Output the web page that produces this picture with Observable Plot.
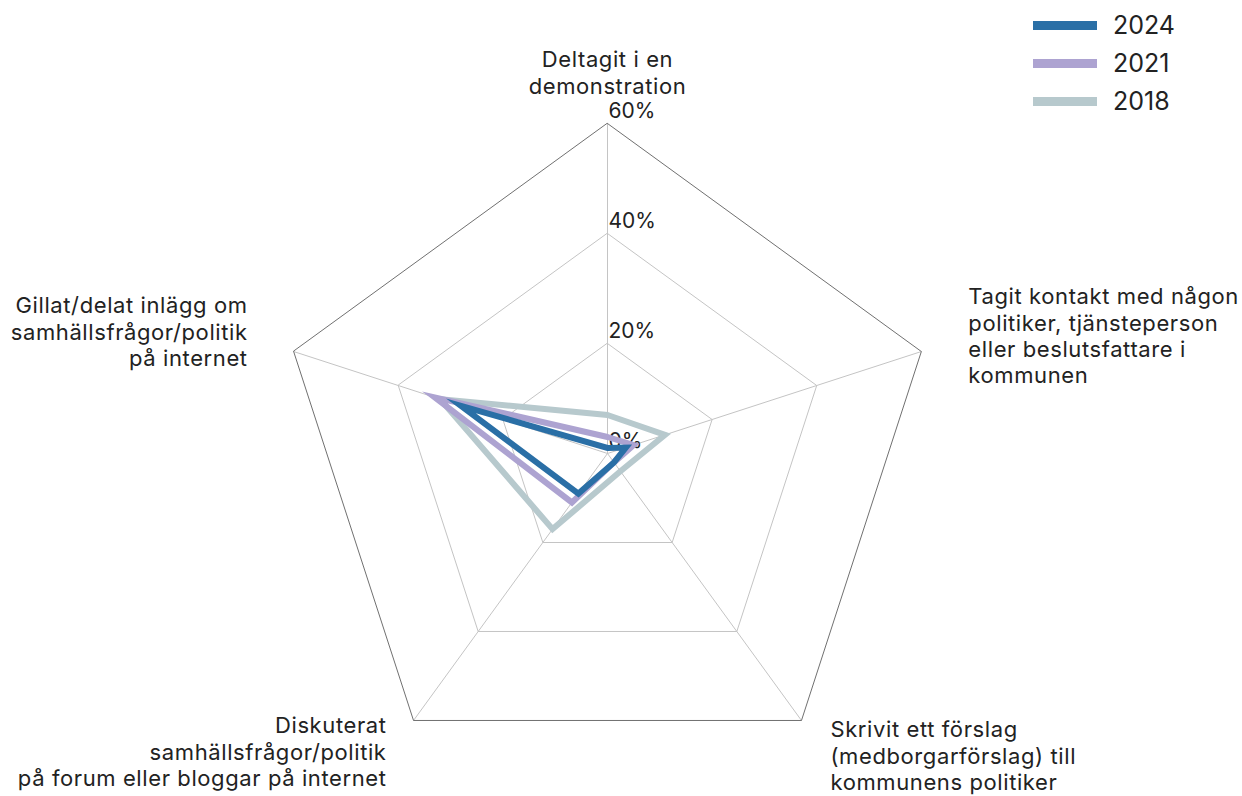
<!DOCTYPE html>
<html>
<head>
<meta charset="utf-8">
<script src="https://cdn.jsdelivr.net/npm/d3@7"></script>
<script src="https://cdn.jsdelivr.net/npm/@observablehq/plot@0.6"></script>
<style>
  html, body { margin: 0; padding: 0; background: #fff; }
  #wrap { position: relative; width: 1242px; height: 796px; font-family: Inter, "Open Sans", sans-serif; color: #222; }
  #legend { position: absolute; left: 1033px; top: 6px; }
  .item { display: flex; align-items: center; height: 38px; font-size: 25px; }
  .sw { width: 64px; height: 9px; margin-right: 16px; }
  .catlabel text { letter-spacing: 0.6px; }
</style>
</head>
<body>
<div id="wrap"><div id="legend"></div></div>
<script>
const categories = [
  "Deltagit i en\ndemonstration",
  "Tagit kontakt med någon\npolitiker, tjänsteperson\neller beslutsfattare i\nkommunen",
  "Skrivit ett förslag\n(medborgarförslag) till\nkommunens politiker",
  "Diskuterat\nsamhällsfrågor/politik\npå forum eller bloggar på internet",
  "Gillat/delat inlägg om\nsamhällsfrågor/politik\npå internet"
];
const years = ["2024", "2021", "2018"];
const values2024 = [1, 3.5, 2, 9, 28];
const values2021 = [3, 5, 2, 11, 33];
const values2018 = [7, 11, 4, 17, 32];
const ringTicks = [20, 40, 60];
const tickLabels = [0, 20, 40, 60];
const colors = {"2024": "#2a6fa6", "2021": "#ada3d1", "2018": "#b7c9cd"};

const n = categories.length;
const ang = i => (i * 2 * Math.PI) / n;
const px = (r, i) => r * Math.sin(ang(i));
const py = (r, i) => r * Math.cos(ang(i));

const series = {"2024": values2024, "2021": values2021, "2018": values2018};
const seriesPts = y => series[y].map((v, i) => ({year: y, x: px(v, i), y: py(v, i)}));

const rings = ringTicks.flatMap(t => d3.range(n).map(i => ({t, x: px(t, i), y: py(t, i)})));
const spokes = d3.range(n).flatMap(i => [{i, x: 0, y: 0}, {i, x: px(60, i), y: py(60, i)}]);

const labelCfg = [
  {textAnchor: "middle", lineAnchor: "bottom", dx: 0, dy: -30},
  {textAnchor: "start", lineAnchor: "top", dx: 47, dy: -66},
  {textAnchor: "start", lineAnchor: "top", dx: 29, dy: -2},
  {textAnchor: "end", lineAnchor: "top", dx: -27, dy: -6},
  {textAnchor: "end", lineAnchor: "top", dx: -46, dy: -57}
];

const K = 5.5; // px per percent
const cx = 607, cy = 453, W = 1242, H = 796;

const marks = [
  Plot.line(rings.filter(d => d.t < 60), {x: "x", y: "y", z: "t", curve: "linear-closed", stroke: "#c4c4c4", strokeWidth: 1}),
  Plot.line(spokes, {x: "x", y: "y", z: "i", stroke: "#c4c4c4", strokeWidth: 1}),
  Plot.line(rings.filter(d => d.t === 60), {x: "x", y: "y", z: "t", curve: "linear-closed", stroke: "#707070", strokeWidth: 1}),
  Plot.text(tickLabels, {x: 0, y: d => d, text: d => d + "%", textAnchor: "start", lineAnchor: "bottom", dx: 1, dy: -6, fontSize: 21, fill: "#222"}),
  ...["2018", "2021", "2024"].map(y => Plot.line(seriesPts(y), {x: "x", y: "y", curve: "linear-closed", stroke: colors[y], strokeWidth: 6, strokeLinejoin: "miter", strokeMiterlimit: 10})),
  ...categories.map((c, i) => Plot.text([c], {x: px(60, i), y: py(60, i), text: d => d, fontSize: 22, lineHeight: 1.2, fill: "#222", className: "catlabel", ...labelCfg[i]}))
];

const chart = Plot.plot({
  width: W, height: H, margin: 0,
  style: {fontFamily: "Inter, 'Open Sans', sans-serif", background: "#fff"},
  x: {domain: [-cx / K, (W - cx) / K], axis: null},
  y: {domain: [-(H - cy) / K, cy / K], axis: null},
  marks
});
document.getElementById("wrap").prepend(chart);

const legend = document.getElementById("legend");
years.forEach(y => {
  const it = document.createElement("div");
  it.className = "item";
  it.innerHTML = `<div class="sw" style="background:${colors[y]}"></div><span>${y}</span>`;
  legend.appendChild(it);
});
</script>
</body>
</html>
